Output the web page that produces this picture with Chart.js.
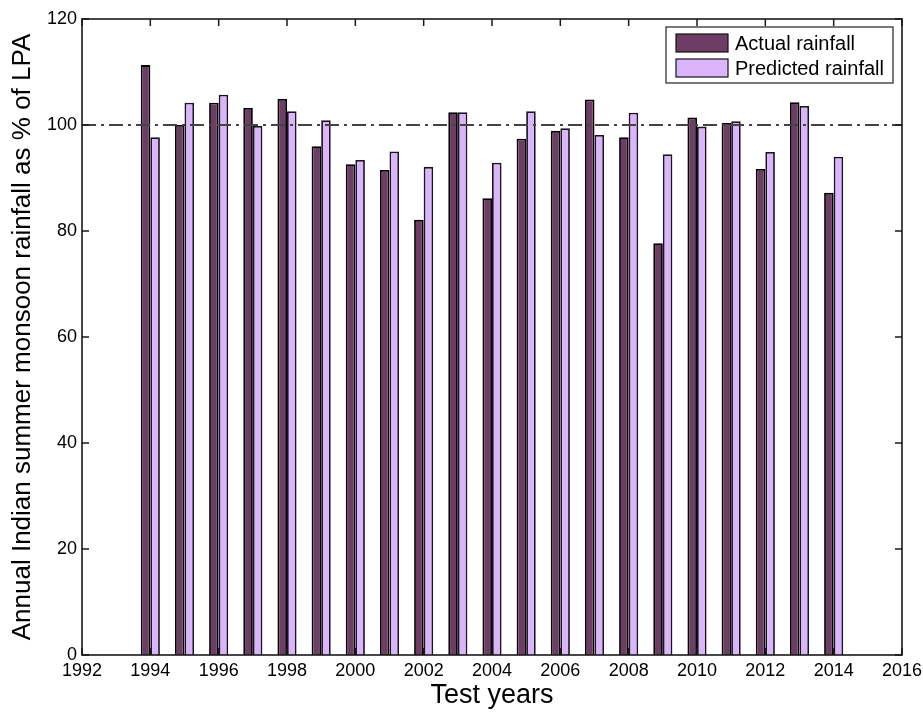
<!DOCTYPE html>
<html>
<head>
<meta charset="utf-8">
<title>Annual Indian summer monsoon rainfall</title>
<script src="https://cdn.jsdelivr.net/npm/chart.js@4.4.1/dist/chart.umd.min.js"></script>
<style>
  html, body { margin: 0; padding: 0; background: #fff; }
  #wrap { width: 923px; height: 712px; }
</style>
</head>
<body>
<div id="wrap"><canvas id="rainChart" width="923" height="712"></canvas></div>
<script>
// data (% of LPA)
const years = [1994, 1995, 1996, 1997, 1998, 1999, 2000, 2001, 2002, 2003, 2004,
               2005, 2006, 2007, 2008, 2009, 2010, 2011, 2012, 2013, 2014];
const actualRain = [111.3, 100.0, 104.2, 103.2, 104.9, 96.0, 92.6, 91.5, 82.1, 102.4, 86.2,
                    97.4, 98.9, 104.8, 97.7, 77.7, 101.4, 100.4, 91.7, 104.3, 87.2];
const predictedRain = [97.7, 104.2, 105.7, 99.8, 102.6, 100.9, 93.4, 95.0, 92.1, 102.4, 92.9,
                       102.6, 99.4, 98.1, 102.3, 94.5, 99.7, 100.7, 94.9, 103.6, 94.0];
const seriesNames = ['Actual rainfall', 'Predicted rainfall'];
const LPA_LINE = 100;

const FONT = '"Liberation Sans", Arial, Helvetica, sans-serif';

function toPoints(vals) {
    return years.map((yr, i) => ({ x: yr, y: vals[i] }));
}

// frame, inward tick marks, LPA reference line and boxed legend
const matlabAxes = {
    id: 'matlabAxes',
    afterDatasetsDraw(chart) {
        const { ctx, chartArea: a, scales } = chart;
        ctx.save();

        // dash-dot line at 100 %
        const y100 = scales.y.getPixelForValue(LPA_LINE);
        ctx.strokeStyle = '#444';
        ctx.lineWidth = 1.8;
        ctx.setLineDash([14, 5, 3, 5]);
        ctx.beginPath();
        ctx.moveTo(a.left, y100);
        ctx.lineTo(a.right, y100);
        ctx.stroke();
        ctx.setLineDash([]);

        // inward ticks on all four sides
        ctx.strokeStyle = '#1a1a1a';
        ctx.lineWidth = 1.5;
        const tl = 7;
        ctx.beginPath();
        scales.x.ticks.forEach(t => {
            const x = scales.x.getPixelForValue(t.value);
            ctx.moveTo(x, a.bottom); ctx.lineTo(x, a.bottom - tl);
            ctx.moveTo(x, a.top); ctx.lineTo(x, a.top + tl);
        });
        scales.y.ticks.forEach(t => {
            const y = scales.y.getPixelForValue(t.value);
            ctx.moveTo(a.left, y); ctx.lineTo(a.left + tl, y);
            ctx.moveTo(a.right, y); ctx.lineTo(a.right - tl, y);
        });
        ctx.stroke();

        // box
        ctx.lineWidth = 1.6;
        ctx.strokeRect(a.left, a.top, a.right - a.left, a.bottom - a.top);

        // legend
        const lx = a.right - 236, ly = a.top + 8, lw = 227, lh = 56;
        ctx.fillStyle = '#fff';
        ctx.fillRect(lx, ly, lw, lh);
        ctx.lineWidth = 1.2;
        ctx.strokeStyle = '#222';
        ctx.strokeRect(lx, ly, lw, lh);
        ctx.font = '20px ' + FONT;
        ctx.textBaseline = 'middle';
        chart.data.datasets.forEach((ds, i) => {
            const rowY = ly + 16 + i * 25;
            ctx.fillStyle = ds.backgroundColor;
            ctx.fillRect(lx + 10, rowY - 9, 52, 18);
            ctx.strokeStyle = '#111';
            ctx.lineWidth = 1.2;
            ctx.strokeRect(lx + 10, rowY - 9, 52, 18);
            ctx.fillStyle = '#000';
            ctx.fillText(ds.label, lx + 69, rowY + 1);
        });
        ctx.restore();
    }
};

document.addEventListener('DOMContentLoaded', () => {
    const ctx = document.getElementById('rainChart').getContext('2d');
    new Chart(ctx, {
        type: 'bar',
        data: {
            datasets: [{
                label: seriesNames[0],
                data: toPoints(actualRain),
                backgroundColor: '#6e3d65',
                borderColor: '#000',
                borderWidth: 1.8
            }, {
                label: seriesNames[1],
                data: toPoints(predictedRain),
                backgroundColor: '#dbb5fb',
                borderColor: '#1a1420',
                borderWidth: 1.8
            }]
        },
        options: {
            responsive: false,
            animation: false,
            devicePixelRatio: 1,
            categoryPercentage: 0.56,
            barPercentage: 1.0,
            layout: { padding: { top: 19, right: 21, left: 0, bottom: 0 } },
            plugins: {
                legend: { display: false },
                tooltip: { enabled: false }
            },
            scales: {
                x: {
                    type: 'linear',
                    min: 1992,
                    max: 2016,
                    offset: false,
                    grid: { display: false, drawTicks: false, offset: false },
                    border: { display: false },
                    ticks: {
                        stepSize: 2,
                        padding: 5,
                        color: '#000',
                        font: { family: FONT, size: 18 },
                        callback: v => String(v),
                        maxRotation: 0
                    },
                    title: {
                        display: true,
                        text: 'Test years',
                        color: '#000',
                        font: { family: FONT, size: 27 },
                        padding: { top: 0, bottom: 0 }
                    },
                    afterFit: scale => {
                        scale.height = 57;
                        scale.paddingLeft = 0;
                        scale.paddingRight = 0;
                    }
                },
                y: {
                    min: 0,
                    max: 120,
                    grid: { display: false, drawTicks: false },
                    border: { display: false },
                    ticks: {
                        stepSize: 20,
                        padding: 5,
                        color: '#000',
                        font: { family: FONT, size: 18 }
                    },
                    title: {
                        display: true,
                        text: 'Annual Indian summer monsoon rainfall as % of LPA',
                        color: '#000',
                        font: { family: FONT, size: 26 },
                        padding: { top: 7, bottom: 0 }
                    },
                    afterFit: scale => {
                        scale.width = 82;
                        scale.paddingTop = 0;
                        scale.paddingBottom = 0;
                    }
                }
            }
        },
        plugins: [matlabAxes]
    });
});
</script>
</body>
</html>
